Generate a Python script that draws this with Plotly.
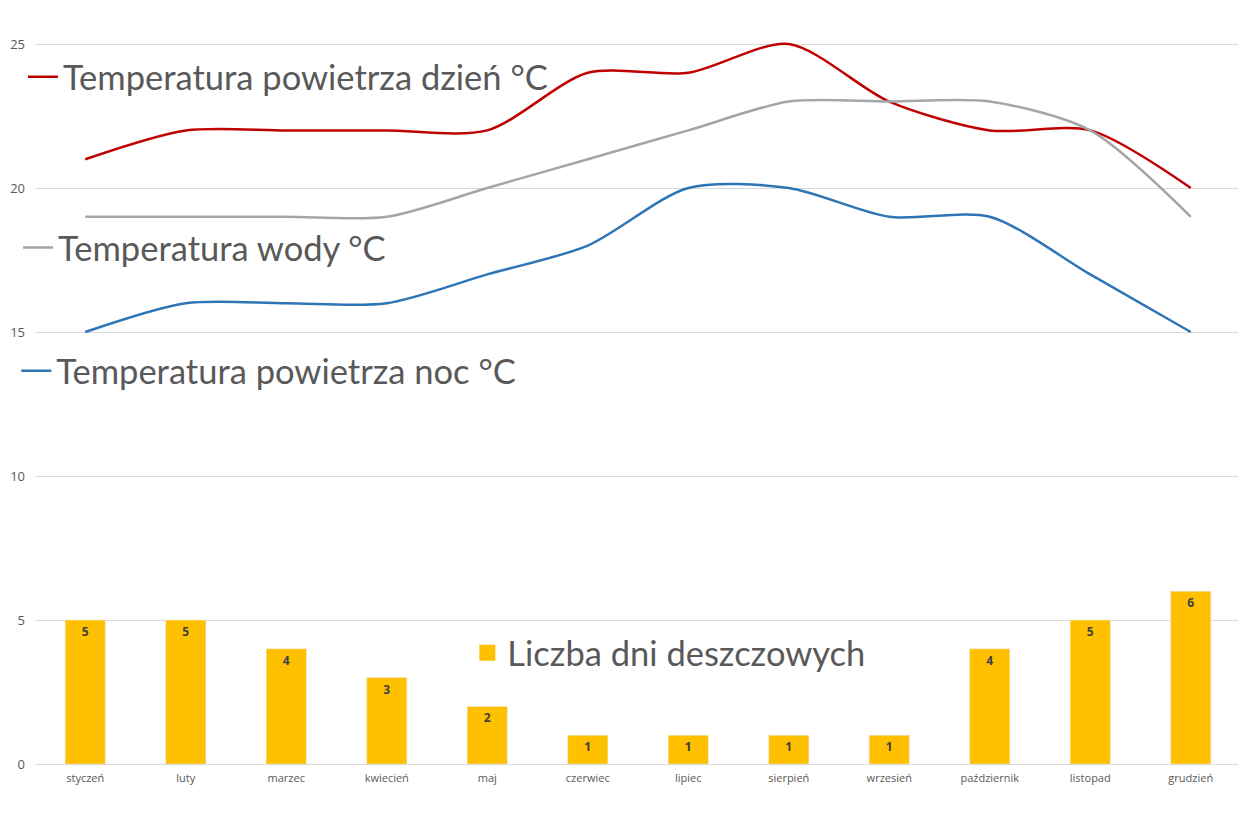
import plotly.graph_objects as go

months = ['styczeń', 'luty', 'marzec', 'kwiecień', 'maj', 'czerwiec', 'lipiec',
          'sierpień', 'wrzesień', 'październik', 'listopad', 'grudzień']
temp_day = [21, 22, 22, 22, 22, 24, 24, 25, 23, 22, 22, 20]
temp_water = [19, 19, 19, 19, 20, 21, 22, 23, 23, 23, 22, 19]
temp_night = [15, 16, 16, 16, 17, 18, 20, 20, 19, 19, 17, 15]
rain_days = [5, 5, 4, 3, 2, 1, 1, 1, 1, 4, 5, 6]
y_ticks = [0, 5, 10, 15, 20, 25]

text_col = '#595959'
font = 'Lato, Calibri, sans-serif'
bar_col = '#FFC000'

fig = go.Figure()

fig.add_trace(go.Bar(
    x=months, y=rain_days, name='Liczba dni deszczowych',
    marker_color=bar_col, width=0.4, showlegend=False,
    text=rain_days, textposition='inside', insidetextanchor='end',
    textfont=dict(size=12, color='#404040', family='Open Sans', weight='bold'),
))
# legend entry with a big square, like the original
fig.add_trace(go.Scatter(
    x=[None], y=[None], name='Liczba dni deszczowych', mode='markers',
    marker=dict(symbol='square', size=22, color=bar_col),
    legend='legend4'
))

lines = [
    (temp_day, 'Temperatura powietrza dzień °C', '#C00000', 'legend'),
    (temp_water, 'Temperatura wody °C', '#A5A5A5', 'legend2'),
    (temp_night, 'Temperatura powietrza noc °C', '#2E75B6', 'legend3'),
]
for vals, name, col, leg in lines:
    fig.add_trace(go.Scatter(
        x=months, y=vals, name=name, mode='lines',
        line=dict(color=col, width=2.5, shape='spline', smoothing=0.8),
        legend=leg
    ))

def leg(x, y):
    return dict(x=x, y=y, xanchor='left', yanchor='middle', bgcolor='rgba(0,0,0,0)',
                font=dict(size=34.5, color=text_col, family=font),
                itemwidth=30, tracegroupgap=0)

# page body adds 8px offset, margins compensate for it
fig.update_layout(
    width=1246, height=826,
    margin=dict(l=27, r=13, t=0, b=70, autoexpand=False),
    plot_bgcolor='white', paper_bgcolor='white',
    showlegend=True,
    legend=leg(-0.010, 0.909),
    legend2=leg(-0.014, 0.683),
    legend3=leg(-0.0155, 0.520),
    legend4=leg(0.3585, 0.147),
)
fig.update_xaxes(
    showgrid=False, showline=False, ticks='', ticklabelstandoff=6,
    tickfont=dict(size=11, color=text_col, family='Open Sans'),
)
fig.update_yaxes(
    range=[0, 26.25], tickvals=y_ticks, showgrid=True, gridcolor='#D9D9D9',
    zeroline=True, zerolinecolor='#D9D9D9', zerolinewidth=1,
    tickfont=dict(size=13, color=text_col, family='Open Sans'), ticklabelstandoff=9,
)

fig.write_html('out.html')
